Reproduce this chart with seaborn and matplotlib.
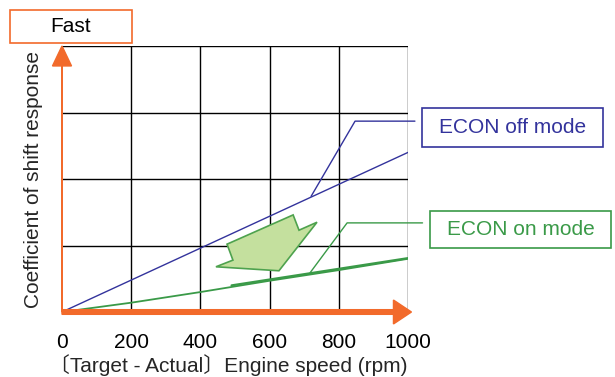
import matplotlib
matplotlib.use("Agg")
import matplotlib.pyplot as plt
from matplotlib.patches import Rectangle, Polygon, FancyArrow
import seaborn as sns
import pandas as pd

# Engine speed difference (rpm) and shift-response coefficient per mode
speed_rpm = [0, 200, 400, 600, 800, 1000]
econ_off = [0.0, 0.48, 0.96, 1.44, 1.92, 2.40]
econ_on = [0.0, 0.14, 0.30, 0.47, 0.63, 0.80]
econ_on_upper_rpm = [490, 1000]
econ_on_upper = [0.40, 0.81]
x_ticks = [0, 200, 400, 600, 800, 1000]
x_tick_labels = ["0", "200", "400", "600", "800", "1000"]

# Shift arrow outline (rpm, coefficient)
arrow_rpm = [668, 685, 737, 627, 445, 494, 477]
arrow_coef = [1.46, 1.23, 1.35, 0.62, 0.68, 0.78, 1.02]

sns.set_theme(style="white")
plt.rcParams["font.family"] = ["Liberation Sans", "DejaVu Sans"]

W, H = 615, 377
FS = 15
fig = plt.figure(figsize=(W / 100, H / 100), dpi=100)
ax = fig.add_axes([62 / W, (H - 312) / H, 346 / W, 266 / H])
ax.set_xlim(0, 1000)
ax.set_ylim(0, 4)

ORANGE = "#f26a2b"
BLUE = "#33339c"
GREEN = "#3a9a48"

# grid
for gx in [200, 400, 600, 800, 1000]:
    ax.axvline(gx, color="black", lw=1.0, zorder=1)
for gy in [1, 2, 3, 4]:
    ax.axhline(gy, color="black", lw=1.0, zorder=1)
for s in ax.spines.values():
    s.set_visible(False)

df = pd.DataFrame({"rpm": speed_rpm, "off": econ_off, "on": econ_on})
sns.lineplot(data=df, x="rpm", y="off", ax=ax, color=BLUE, lw=1.0, zorder=3)
sns.lineplot(data=df, x="rpm", y="on", ax=ax, color=GREEN, lw=1.3, zorder=3)
sns.lineplot(x=econ_on_upper_rpm, y=econ_on_upper, ax=ax, color=GREEN, lw=1.6, zorder=3)

# shift arrow
ax.add_patch(Polygon(list(zip(arrow_rpm, arrow_coef)), closed=True,
                     facecolor="#c4e09e", edgecolor="#4ea24e", lw=1.2, zorder=4))

# leader lines
ax.plot([720, 847, 1020], [1.74, 2.87, 2.87], color=BLUE, lw=1.0,
        clip_on=False, zorder=3)
ax.plot([717, 824, 1042], [0.59, 1.34, 1.34], color=GREEN, lw=1.0,
        clip_on=False, zorder=3)

# orange axis arrows
ax.add_patch(FancyArrow(0, 0, 0, 4, width=0.06, head_width=55, head_length=0.30,
                        length_includes_head=True, color=ORANGE, clip_on=False, zorder=5))
ax.add_patch(FancyArrow(0, 0, 1010, 0, width=0.07, head_width=0.36, head_length=52,
                        length_includes_head=True, color=ORANGE, clip_on=False, zorder=5))

ax.set_xticks(x_ticks)
ax.set_xticklabels(x_tick_labels, fontsize=FS)
ax.set_yticks([])
ax.tick_params(axis="x", length=0, pad=15, colors="black")
ax.set_xlabel("")
ax.set_ylabel("Coefficient of shift response", fontsize=FS, labelpad=14)

fig.text(228 / W, 1 - 365 / H, "〔Target - Actual〕Engine speed (rpm)",
         fontsize=FS, ha="center", va="center",
         family=["Liberation Sans", "Noto Sans CJK JP"])


def px_box(x0, y0, x1, y1, color, text, text_color):
    fig.add_artist(Rectangle((x0 / W, 1 - y1 / H), (x1 - x0) / W, (y1 - y0) / H,
                             transform=fig.transFigure, fill=False,
                             edgecolor=color, lw=1.2))
    fig.text((x0 + x1) / 2 / W, 1 - (y0 + y1) / 2 / H, text, color=text_color,
             fontsize=FS, ha="center", va="center")


px_box(10, 10, 132, 43, ORANGE, "Fast", "black")
px_box(422, 108, 603, 147, BLUE, "ECON off mode", BLUE)
px_box(430, 211, 611, 248, GREEN, "ECON on mode", GREEN)

fig.savefig("out.png", dpi=100)
